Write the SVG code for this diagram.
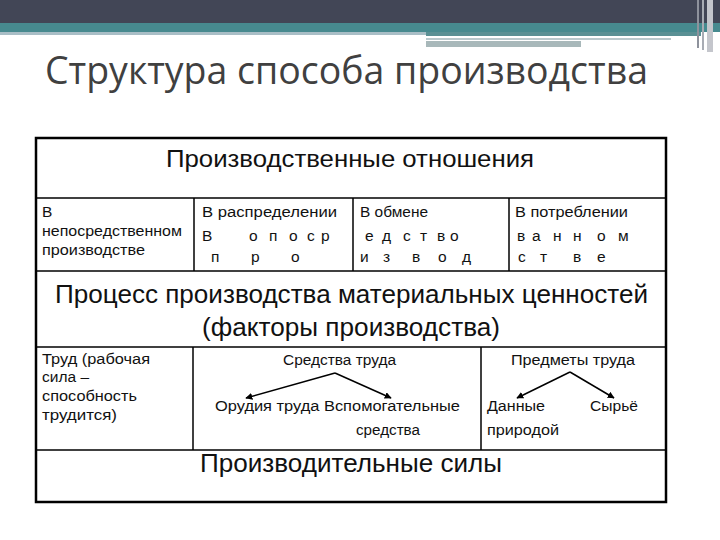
<svg xmlns="http://www.w3.org/2000/svg" width="720" height="540" viewBox="0 0 720 540">
<defs>
<style>
.t{font-family:"Liberation Sans",Arial,sans-serif;fill:#111}
.s{font-size:15.5px}
.b{font-size:25px}
.ttl{font-family:"Open Sans","DejaVu Sans",sans-serif;font-size:38px;fill:#404040}
.ln{stroke:#000;stroke-width:1.5;fill:none}
.ar{stroke:#000;stroke-width:1.5;fill:none;marker-end:url(#ah)}
</style>
<marker id="ah" viewBox="0 0 10 10" refX="9" refY="5" markerWidth="7" markerHeight="7" orient="auto" markerUnits="userSpaceOnUse">
<path d="M0,0 L10,5 L0,10 z" fill="#000"/>
</marker>
</defs>
<rect width="720" height="540" fill="#fff"/>
<g id="topbar">
<rect x="0" y="0" width="720" height="23" fill="#424656"/>
<rect x="0" y="23" width="720" height="9" fill="#478A8F"/>
<rect x="0" y="32" width="426" height="3" fill="#A9BEC6"/>
<rect x="426" y="32" width="275" height="4" fill="#5A9094"/>
<rect x="426" y="38" width="245" height="2" fill="#B9C8CC"/>
<rect x="426" y="41" width="155" height="6" fill="#A8B8BA"/>
<rect x="697" y="0" width="2" height="48" fill="#8E929C"/>
<rect x="702" y="0" width="2" height="50" fill="#A8ACB4"/>
<rect x="707" y="0" width="6" height="52" fill="#C4C6CC"/>
</g>
<text class="ttl" x="45" y="84" textLength="603" lengthAdjust="spacingAndGlyphs">Структура способа производства</text>
<g id="frame">
<rect x="36" y="138" width="630" height="364" fill="none" stroke="#000" stroke-width="2.5"/>
<line class="ln" x1="36" y1="198" x2="666" y2="198"/>
<line class="ln" x1="36" y1="271" x2="666" y2="271"/>
<line class="ln" x1="36" y1="347" x2="666" y2="347"/>
<line class="ln" x1="36" y1="450" x2="666" y2="450"/>
<line class="ln" x1="194" y1="198" x2="194" y2="271"/>
<line class="ln" x1="353" y1="198" x2="353" y2="271"/>
<line class="ln" x1="509" y1="198" x2="509" y2="271"/>
<line class="ln" x1="193" y1="347" x2="193" y2="450"/>
<line class="ln" x1="481" y1="347" x2="481" y2="450"/>
</g>
<g id="relations">
<text class="t" x="166" y="167" font-size="23" textLength="368" lengthAdjust="spacingAndGlyphs">Производственные отношения</text>
</g>
<g id="direct">
<text class="t s" x="42" y="217">В</text>
<text class="t s" x="42" y="236" textLength="140" lengthAdjust="spacingAndGlyphs">непосредственном</text>
<text class="t s" x="42" y="255" textLength="103" lengthAdjust="spacingAndGlyphs">производстве</text>
</g>
<g id="distribution">
<text class="t s" x="202" y="217" textLength="135" lengthAdjust="spacingAndGlyphs">В распределении</text>
<text class="t s" x="202 249 269 289 307 321" y="241">Вопоср</text>
<text class="t s" x="211 251 291" y="262">про</text>
</g>
<g id="exchange">
<text class="t s" x="360" y="217" textLength="68" lengthAdjust="spacingAndGlyphs">В обмене</text>
<text class="t s" x="365 382 403 420 437 450" y="241">едство</text>
<text class="t s" x="360 383 412 438 462" y="262">извод</text>
</g>
<g id="consumption">
<text class="t s" x="515" y="217" textLength="113" lengthAdjust="spacingAndGlyphs">В потреблении</text>
<text class="t s" x="517 532 553 573 597 618" y="241">ванном</text>
<text class="t s" x="518 540 573 597" y="262">стве</text>
</g>
<g id="process">
<text class="t b" x="55" y="303" textLength="593" lengthAdjust="spacingAndGlyphs">Процесс производства материальных ценностей</text>
<text class="t b" x="202" y="336" textLength="298" lengthAdjust="spacingAndGlyphs">(факторы производства)</text>
</g>
<g id="labor">
<text class="t s" x="42" y="364" textLength="108" lengthAdjust="spacingAndGlyphs">Труд (рабочая</text>
<text class="t s" x="42" y="382">сила –</text>
<text class="t s" x="42" y="401" textLength="95" lengthAdjust="spacingAndGlyphs">способность</text>
<text class="t s" x="42" y="420" textLength="75" lengthAdjust="spacingAndGlyphs">трудится)</text>
</g>
<g id="means">
<text class="t s" x="283" y="365" textLength="113" lengthAdjust="spacingAndGlyphs">Средства труда</text>
<text class="t s" x="215" y="411" textLength="245" lengthAdjust="spacingAndGlyphs">Орудия труда  Вспомогательные</text>
<text class="t s" x="356" y="435" textLength="64" lengthAdjust="spacingAndGlyphs">средства</text>
</g>
<g id="objects">
<text class="t s" x="511" y="365" textLength="124" lengthAdjust="spacingAndGlyphs">Предметы труда</text>
<text class="t s" x="487" y="411" textLength="58" lengthAdjust="spacingAndGlyphs">Данные</text>
<text class="t s" x="487" y="435" textLength="72" lengthAdjust="spacingAndGlyphs">природой</text>
<text class="t s" x="590" y="411" textLength="48" lengthAdjust="spacingAndGlyphs">Сырьё</text>
</g>
<g id="forces">
<text class="t b" x="200" y="472" textLength="302" lengthAdjust="spacingAndGlyphs">Производительные силы</text>
</g>
<g id="connectors">
<polyline class="ar" points="335,373 246,398"/>
<polyline class="ar" points="335,373 391,398"/>
<polyline class="ar" points="570,372 517,398"/>
<polyline class="ar" points="570,372 614,398"/>
</g>
</svg>
